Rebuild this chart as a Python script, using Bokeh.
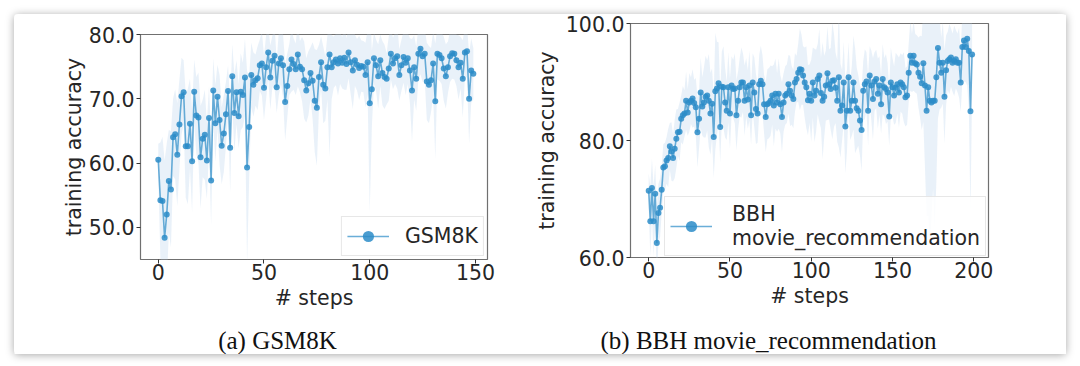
import numpy as np
from bokeh.plotting import figure
from bokeh.layouts import row, column
from bokeh.models import (ColumnDataSource, Legend, LegendItem, Label,
                          FixedTicker, PrintfTickFormatter, Range1d)
from bokeh.embed import file_html
from bokeh.resources import INLINE

# ---------------- data ----------------
gsm_steps = list(range(150))
gsm_acc = [
    60.5, 54.2, 54.1, 48.4, 52.0, 57.2, 55.9, 64.0, 64.5, 61.3,
    66.0, 70.4, 71.0, 62.6, 62.6, 66.1, 60.3, 71.1, 67.4, 67.1,
    60.9, 63.8, 64.4, 60.4, 67.0, 57.3, 71.3, 66.2, 70.3, 66.7,
    62.7, 64.6, 67.6, 71.2, 62.4, 73.5, 67.8, 71.0, 67.3, 71.1,
    70.6, 73.3, 59.3, 65.6, 73.7, 72.2, 72.9, 73.2, 75.2, 75.5,
    71.7, 74.9, 77.2, 73.3, 75.9, 76.7, 71.8, 75.5, 76.3, 75.2,
    69.5, 72.0, 74.6, 76.1, 75.4, 74.6, 76.9, 75.0, 74.6, 72.9,
    71.3, 72.4, 74.0, 72.8, 69.7, 68.6, 73.4, 75.7, 72.2, 71.6,
    74.9, 76.9, 74.9, 75.7, 76.1, 75.5, 76.3, 75.6, 76.4, 75.4,
    77.2, 75.7, 74.4, 76.0, 75.3, 74.8, 75.1, 75.0, 73.7, 75.7,
    69.3, 71.5, 76.3, 75.2, 73.5, 76.0, 74.0, 73.4, 73.1, 74.7,
    77.0, 75.5, 76.3, 76.6, 73.7, 75.2, 76.5, 75.6, 76.3, 74.4,
    71.3, 74.9, 73.1, 77.0, 77.8, 76.6, 77.0, 72.7, 72.2, 72.9,
    75.5, 69.6, 77.0, 76.8, 76.3, 74.7, 73.5, 74.9, 76.6, 77.1,
    77.0, 76.0, 74.9, 75.6, 73.1, 77.2, 77.4, 70.0, 74.4, 73.9,
]
gsm_spread = [
    2.5, 9, 10, 12, 11, 8, 9, 6, 7, 8,
    7, 6, 5, 8, 9, 7, 8, 5, 6, 7,
    8, 6, 7, 6, 5, 7, 5, 6, 5, 7,
    6, 6, 5, 4, 7, 5, 6, 5, 5, 6,
    5, 6, 15, 8, 5, 5, 4, 5, 4, 5,
    5, 5, 4, 5, 4, 5, 4, 5, 4, 5,
    6, 5, 4, 5, 4, 4, 5, 4, 5, 6,
    5, 5, 4, 6, 8, 9, 5, 4, 6, 5,
    5, 16, 5, 4, 4, 5, 4, 4, 5, 4,
    4, 5, 6, 4, 4, 5, 4, 4, 5, 5,
    17, 6, 4, 4, 5, 4, 5, 5, 4, 5,
    4, 4, 4, 5, 4, 4, 4, 5, 4, 5,
    8, 5, 5, 4, 4, 4, 4, 6, 6, 5,
    5, 9, 4, 4, 4, 5, 5, 4, 4, 4,
    4, 4, 5, 4, 6, 4, 4, 7, 5, 4,
]

bbh_steps = list(range(200))
bbh_acc = [
    71.4, 66.2, 71.9, 66.2, 70.9, 62.5, 67.6, 68.5, 71.6, 75.4,
    75.6, 76.6, 77.0, 79.0, 78.1, 77.0, 78.6, 80.3, 81.4, 81.5,
    83.7, 84.3, 84.6, 86.8, 84.8, 86.5, 86.8, 87.2, 86.4, 85.7,
    81.4, 83.7, 88.2, 85.8, 86.5, 87.5, 87.7, 86.8, 84.6, 86.3,
    80.6, 88.4, 88.9, 89.8, 82.3, 89.2, 89.1, 86.5, 85.1, 89.1,
    84.6, 89.4, 88.8, 88.9, 84.3, 86.8, 89.1, 89.9, 89.9, 86.8,
    89.1, 87.0, 89.4, 84.3, 89.9, 88.2, 85.4, 84.6, 89.6, 90.2,
    89.6, 86.2, 84.0, 86.2, 86.4, 86.8, 87.7, 86.0, 88.0, 86.5,
    88.0, 86.2, 84.0, 86.5, 87.7, 88.0, 89.6, 88.5, 87.7, 87.1,
    89.9, 90.5, 91.6, 92.2, 92.1, 91.1, 89.9, 89.1, 86.9, 88.0,
    86.8, 89.9, 87.7, 88.5, 90.5, 91.1, 88.1, 86.8, 87.5, 89.4,
    91.5, 89.6, 88.8, 90.2, 90.3, 89.0, 86.8, 90.8, 85.1, 86.0,
    89.9, 82.4, 85.1, 90.8, 85.1, 86.8, 89.9, 86.8, 85.5, 85.1,
    83.4, 81.8, 88.5, 89.6, 90.1, 85.1, 91.1, 89.4, 87.1, 90.1,
    90.5, 88.0, 89.4, 86.2, 90.5, 89.1, 88.8, 88.2, 84.1, 89.9,
    89.1, 87.7, 89.0, 89.6, 88.2, 89.9, 89.6, 89.1, 87.4, 87.7,
    91.6, 94.5, 93.3, 94.5, 93.2, 93.0, 91.6, 90.9, 89.8, 93.2,
    89.4, 85.1, 89.1, 86.8, 86.5, 86.8, 86.8, 90.8, 95.8, 93.3,
    91.6, 93.3, 87.5, 92.0, 93.6, 93.9, 94.2, 93.3, 93.6, 93.9,
    93.3, 93.3, 89.9, 96.0, 97.1, 96.0, 97.4, 95.3, 85.0, 94.7,
]
bbh_spread = [
    3, 6, 5, 6, 5, 6, 5, 5, 4, 4,
    4, 4, 5, 4, 5, 4, 5, 5, 4, 5,
    4, 5, 4, 5, 4, 5, 4, 5, 4, 5,
    6, 5, 6, 5, 6, 7, 6, 8, 7, 6,
    7, 10, 8, 7, 6, 6, 7, 6, 5, 6,
    6, 5, 5, 6, 6, 5, 5, 6, 5, 6,
    5, 5, 6, 5, 5, 6, 6, 5, 5, 6,
    5, 5, 6, 6, 6, 6, 5, 7, 6, 5,
    6, 5, 6, 5, 5, 5, 5, 6, 5, 5,
    5, 4, 5, 7, 6, 5, 6, 7, 6, 5,
    7, 6, 8, 7, 6, 8, 6, 10, 7, 6,
    8, 6, 7, 10, 8, 6, 7, 12, 8, 6,
    7, 8, 7, 6, 5, 6, 8, 9, 7, 6,
    6, 7, 5, 6, 5, 6, 5, 6, 7, 5,
    5, 6, 5, 5, 6, 5, 6, 5, 5, 6,
    5, 5, 6, 5, 6, 5, 5, 6, 5, 5,
    5, 6, 5, 6, 5, 5, 6, 7, 8, 10,
    14, 18, 22, 25, 20, 15, 22, 18, 12, 8,
    6, 7, 8, 6, 5, 6, 5, 5, 6, 5,
    5, 6, 5, 6, 7, 6, 8, 10, 18, 6,
]

gsm_xticks = [0, 50, 100, 150]
gsm_yticks = [50, 60, 70, 80]
bbh_xticks = [0, 50, 100, 150, 200]
bbh_yticks = [60, 80, 100]

captions = ["(a) GSM8K", "(b) BBH movie_recommendation"]

# ---------------- style ----------------
FONT = "DejaVu Sans"
FS = "20.5px"
TXT = "#262626"
MARK = "#2b8cc8"
BAND = "#c6dbef"


def make_panel(steps, acc, spread, w, h, bl, br, bt, bb, xr, yr, xt, yt,
               label, legend_loc, ylab_standoff, leg_standoff):
    acc = np.array(acc, dtype=float)
    spread = np.array(spread, dtype=float)
    src = ColumnDataSource(dict(x=steps, y=acc, lo=acc - spread, hi=acc + spread))
    p = figure(width=w, height=h, x_range=Range1d(*xr), y_range=Range1d(*yr),
               output_backend="svg", toolbar_location=None,
               min_border_left=bl, min_border_right=br,
               min_border_top=bt, min_border_bottom=bb)
    p.frame_align = False
    p.background_fill_color = "white"
    p.border_fill_color = "white"
    p.outline_line_color = "#707070"
    p.outline_line_width = 1.2
    p.grid.visible = False

    p.varea(x="x", y1="lo", y2="hi", source=src, fill_color=BAND, fill_alpha=0.38)
    ln = p.line("x", "y", source=src, line_color=MARK, line_width=1.6, line_alpha=0.7)
    dots = p.scatter("x", "y", source=src, size=6, fill_color=MARK,
                     line_color=None, fill_alpha=0.85)

    for ax in (p.xaxis[0], p.yaxis[0]):
        ax.axis_line_color = None
        ax.major_tick_line_color = "#333333"
        ax.major_tick_out = 4
        ax.major_tick_in = 0
        ax.minor_tick_line_color = None
        ax.major_label_text_font = FONT
        ax.major_label_text_font_size = FS
        ax.major_label_text_color = TXT
        ax.axis_label_text_font = FONT
        ax.axis_label_text_font_size = FS
        ax.axis_label_text_font_style = "normal"
        ax.axis_label_text_color = TXT
    p.xaxis.ticker = FixedTicker(ticks=xt)
    p.yaxis.ticker = FixedTicker(ticks=yt)
    p.yaxis.formatter = PrintfTickFormatter(format="%.1f")
    p.xaxis.major_label_standoff = 0
    p.yaxis.major_label_standoff = 2
    p.xaxis.axis_label = "# steps"
    p.yaxis.axis_label = "training accuracy"
    p.xaxis.axis_label_standoff = 3
    p.yaxis.axis_label_standoff = ylab_standoff

    leg = Legend(items=[LegendItem(label=label, renderers=[ln, dots])],
                 location=legend_loc)
    leg.label_text_font = FONT
    leg.label_text_font_size = FS
    leg.label_text_color = TXT
    leg.glyph_width = 42
    leg.glyph_height = 28
    leg.label_standoff = leg_standoff
    leg.padding = 5
    leg.margin = 3
    leg.border_line_color = "#d0d0d0"
    leg.border_line_width = 1
    leg.background_fill_alpha = 0.85
    p.add_layout(leg, "center")
    return p


p1 = make_panel(gsm_steps, gsm_acc, gsm_spread, 517, 312, 126, 44, 20, 67,
                (-8.4, 155.7), (45, 80), gsm_xticks, gsm_yticks,
                "GSM8K", "bottom_right", 0, 16)
p2 = make_panel(bbh_steps, bbh_acc, bbh_spread, 535, 312, 96, 78, 9, 69,
                (-11.2, 209.1), (60, 100), bbh_xticks, bbh_yticks,
                "BBH\nmovie_recommendation", (34, 1), 4, 20)

# caption strip
cap = figure(width=1052, height=28, x_range=Range1d(0, 1052), y_range=Range1d(0, 28),
             output_backend="svg", toolbar_location=None,
             min_border=0, min_border_left=0, min_border_right=0,
             min_border_top=0, min_border_bottom=0)
cap.frame_align = False
cap.axis.visible = False
cap.grid.visible = False
cap.outline_line_color = None
cap.background_fill_color = "white"
cap.border_fill_color = "white"
for txt, cx in zip(captions, (263, 754)):
    cap.add_layout(Label(x=cx, y=14, x_units="screen", y_units="screen", text=txt,
                         text_font="Liberation Serif", text_font_size="25px",
                         text_color="#111111", text_align="center",
                         text_baseline="middle"))

card = column(row(p1, p2), cap, margin=(14, 0, 0, 14),
              styles={"box-shadow": "0 1px 8px rgba(0,0,0,0.35)",
                      "border-radius": "4px", "background": "white"})

open("out.html", "w").write(file_html(card, INLINE))
